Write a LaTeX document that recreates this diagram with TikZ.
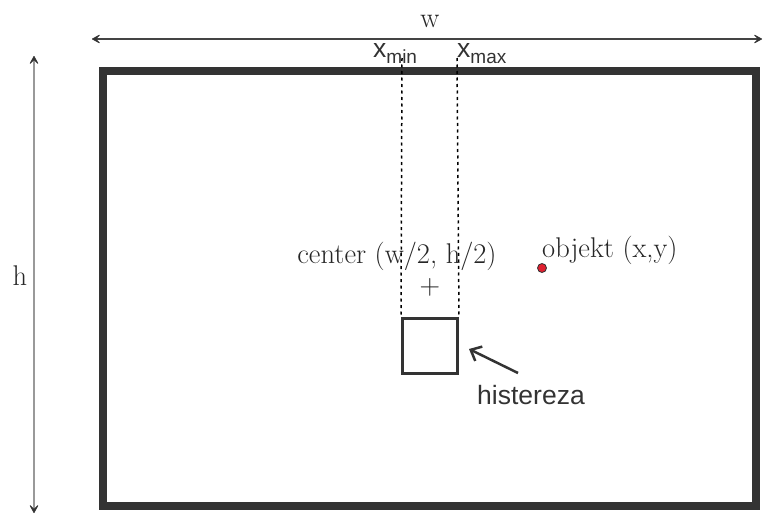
\documentclass[tikz,border=0pt]{standalone}
\usepackage{fontspec}
\newfontfamily\sansf{Liberation Sans}
\usetikzlibrary{arrows.meta}
\definecolor{frameGray}{HTML}{333333}
\definecolor{textGray}{HTML}{262626}
\definecolor{dimGray}{HTML}{444444}
\definecolor{dimLight}{HTML}{999999}
\definecolor{dotRed}{HTML}{E02030}
\tikzset{
  serif/.style={font=\fontsize{28.5}{32}\selectfont, text=textGray, inner sep=0pt},
  sanslabel/.style={font=\sansf\fontsize{26.5}{30}\selectfont, text=frameGray, inner sep=0pt},
  dimhead/.tip={Stealth[length=10pt,width=11pt,inset=5.5pt,line width=0.8pt,round,color=frameGray,fill=frameGray]},
  dimarrow/.style={line width=1.5pt, dimhead-dimhead},
  guide/.style={line width=1.5pt, black, dash pattern=on 3pt off 3.5pt},
}
\begin{document}
\begin{tikzpicture}[x=1pt,y=-1pt]
  \useasboundingbox (0,0) rectangle (763,514);
  % image frame
  \coordinate (tl) at (103,71);
  \coordinate (br) at (756,506);
  \draw[line width=8pt, frameGray] (tl) rectangle (br);
  % width and height dimensions
  \coordinate (wl) at (92,39);
  \coordinate (wr) at (762,39);
  \draw[dimarrow, dimGray] (wl) -- (wr);
  \node[serif] (wlab) at (430,21) {w};
  \coordinate (ht) at (34,56);
  \coordinate (hb) at (34,513);
  \draw[dimarrow, dimLight, line width=1.8pt] (ht) -- (hb);
  \node[serif] (hlab) at (20,276) {h};
  % hysteresis window
  \node[draw=frameGray, line width=3pt, minimum size=55pt, inner sep=0pt] (box) at (430,345.5) {};
  \coordinate (gmin) at (402,58);
  \coordinate (gmax) at (457,58);
  \draw[guide] (gmin) -- (box.north west);
  \draw[guide] (gmax) -- (box.north east);
  \node[sanslabel, anchor=base west] (xmin) at (373,57) {x\raisebox{-6pt}{\fontsize{19}{21}\selectfont min}};
  \node[sanslabel, anchor=base west] (xmax) at (457,57) {x\raisebox{-6pt}{\fontsize{19}{21}\selectfont max}};
  % image centre
  \node[serif] (plus) at (430,287) {+};
  \node[serif] (clab) at (397,256) {center (w/2, h/2)};
  % tracked object
  \node[circle, fill=dotRed, draw=frameGray, line width=0.8pt, minimum size=9pt, inner sep=0pt] (obj) at (542,268) {};
  \node[serif, anchor=west] (olab) at (542,250) {objekt (x,y)};
  % hysteresis label
  \node[sanslabel] (hist) at (531,395) {histereza};
  \coordinate (hs) at (518,373);
  \coordinate (he) at (469,349);
  \draw[line width=2.5pt, frameGray, -{Straight Barb[length=9pt,width=16pt]}] (hs) -- (he);
\end{tikzpicture}
\end{document}
